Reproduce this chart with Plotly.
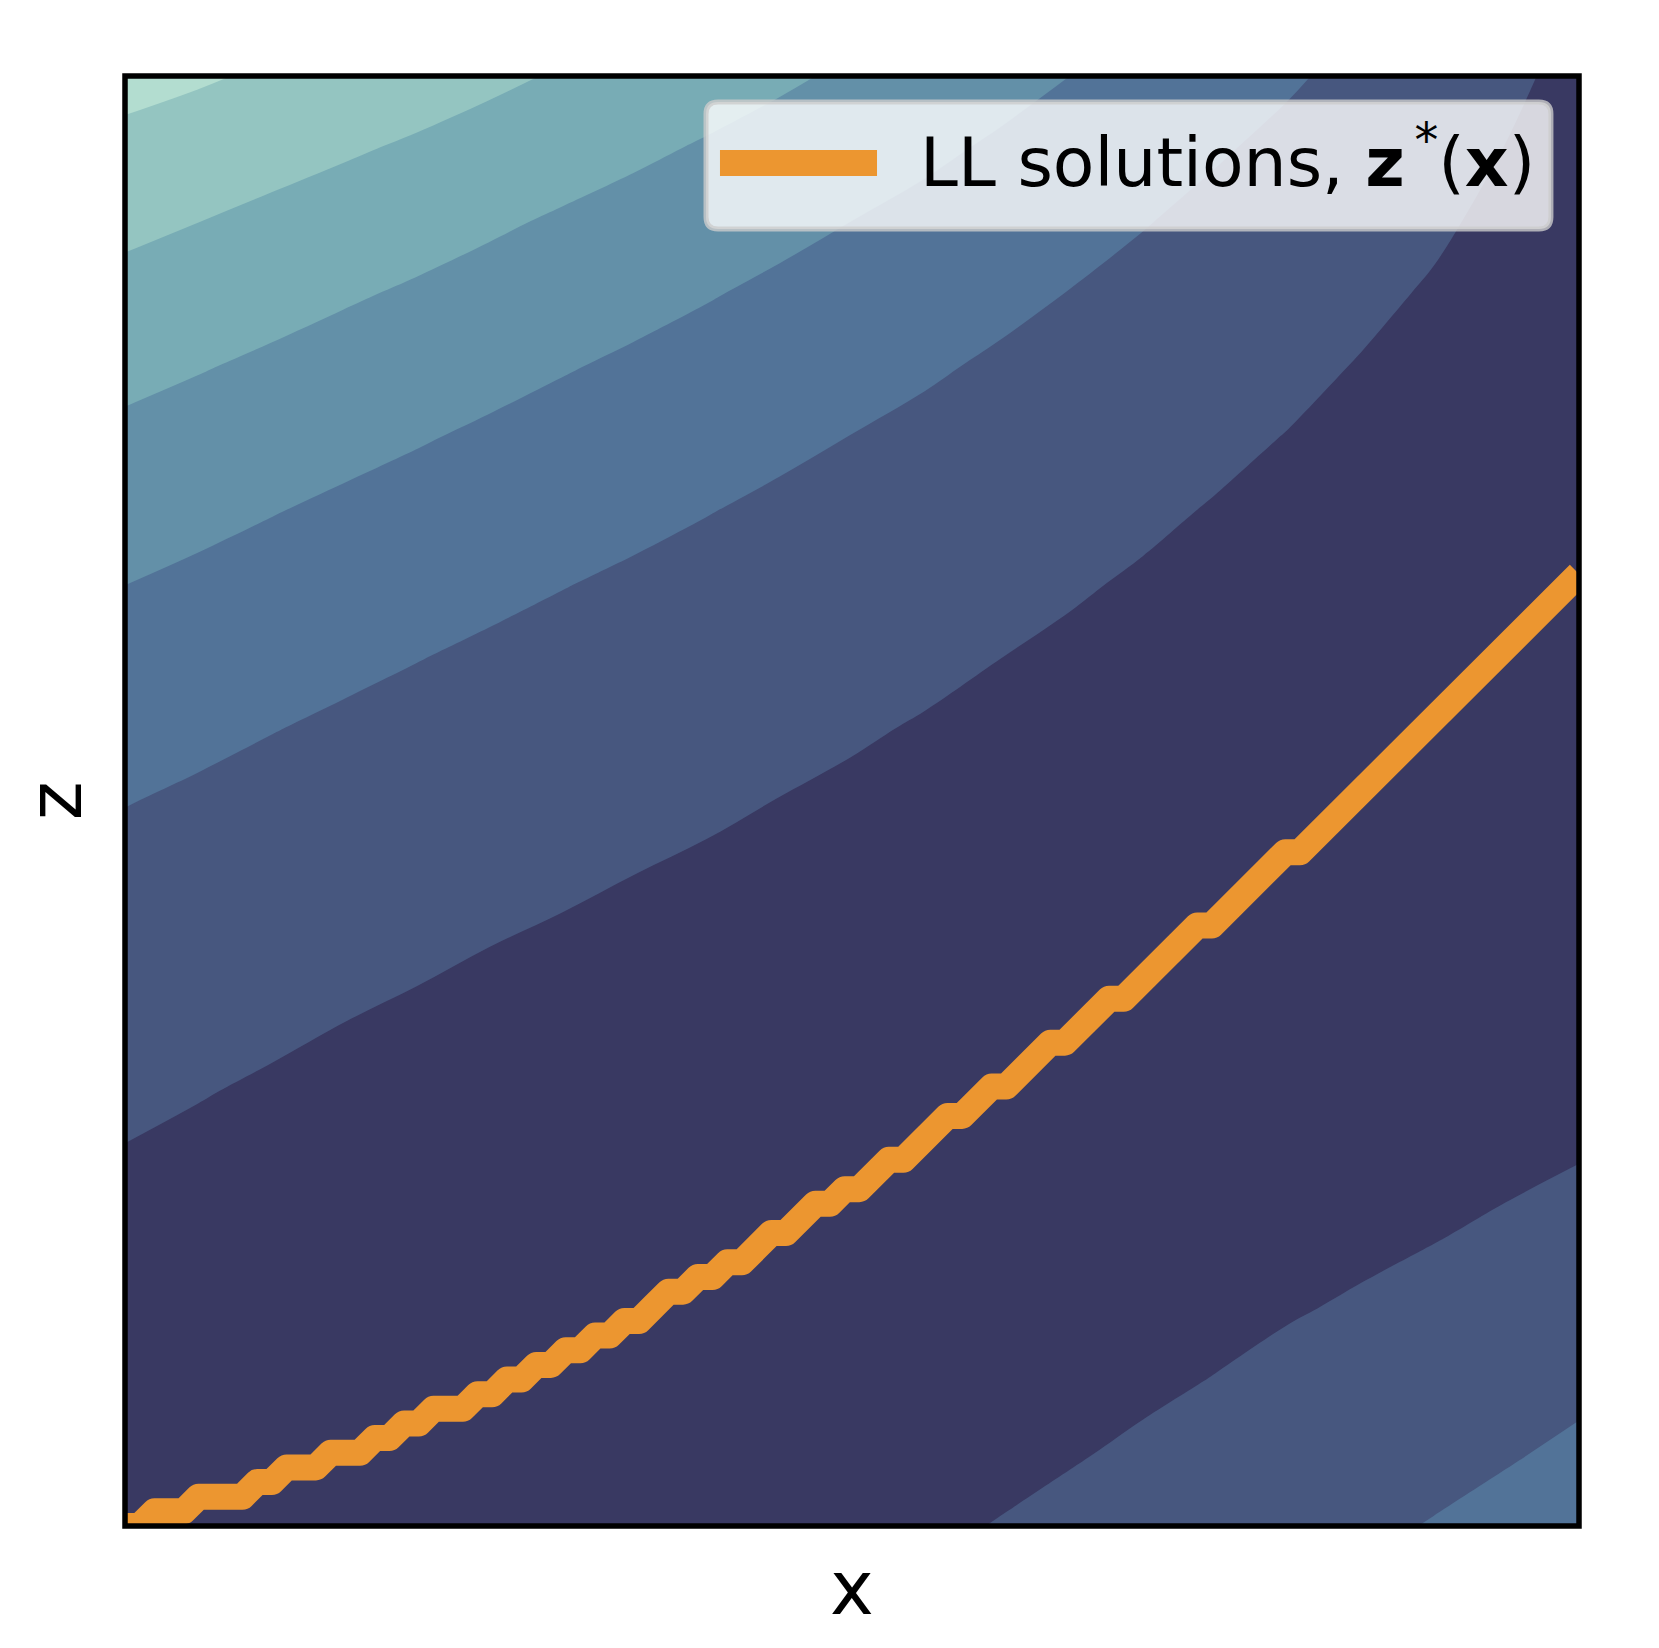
import plotly.graph_objects as go

# contour grid in grid-index units (0..99 on both axes), step 4.95
grid_x = [0, 4.95, 9.9, 14.85, 19.8, 24.75, 29.7, 34.65, 39.6, 44.55, 49.5,
          54.45, 59.4, 64.35, 69.3, 74.25, 79.2, 84.15, 89.1, 94.05, 99]
grid_z = list(grid_x)

# objective values; one list per x column, bottom -> top in z
obj_by_x = [
    [0.600, 0.614, 0.657, 0.728, 0.828, 0.956, 1.113, 1.298, 1.512, 1.754, 2.025, 2.324, 2.652, 3.008, 3.393, 3.806, 4.248, 4.718, 5.217, 5.744, 6.300],
    [0.600, 0.602, 0.629, 0.684, 0.768, 0.882, 1.025, 1.197, 1.398, 1.628, 1.887, 2.176, 2.494, 2.840, 3.216, 3.621, 4.056, 4.519, 5.012, 5.543, 6.104],
    [0.600, 0.600, 0.609, 0.647, 0.715, 0.813, 0.941, 1.098, 1.285, 1.502, 1.749, 2.026, 2.332, 2.668, 3.034, 3.430, 3.856, 4.311, 4.796, 5.321, 5.876],
    [0.600, 0.600, 0.601, 0.622, 0.673, 0.755, 0.867, 1.009, 1.182, 1.385, 1.618, 1.882, 2.176, 2.500, 2.854, 3.239, 3.654, 4.099, 4.575, 5.106, 5.667],
    [0.600, 0.600, 0.600, 0.606, 0.641, 0.707, 0.804, 0.931, 1.089, 1.278, 1.497, 1.748, 2.029, 2.341, 2.683, 3.057, 3.461, 3.895, 4.361, 4.882, 5.434],
    [0.600, 0.600, 0.600, 0.600, 0.619, 0.668, 0.749, 0.861, 1.003, 1.177, 1.381, 1.617, 1.884, 2.181, 2.510, 2.869, 3.260, 3.682, 4.134, 4.643, 5.182],
    [0.660, 0.622, 0.602, 0.600, 0.606, 0.640, 0.705, 0.801, 0.928, 1.086, 1.275, 1.495, 1.746, 2.029, 2.342, 2.686, 3.061, 3.467, 3.904, 4.397, 4.921],
    [0.685, 0.636, 0.608, 0.600, 0.600, 0.619, 0.668, 0.749, 0.861, 1.003, 1.177, 1.381, 1.617, 1.884, 2.181, 2.510, 2.869, 3.260, 3.682, 4.159, 4.668],
    [0.722, 0.659, 0.618, 0.601, 0.600, 0.605, 0.639, 0.703, 0.799, 0.925, 1.083, 1.271, 1.491, 1.741, 2.023, 2.335, 2.679, 3.053, 3.459, 3.915, 4.402],
    [0.771, 0.691, 0.636, 0.606, 0.600, 0.600, 0.616, 0.663, 0.741, 0.851, 0.991, 1.162, 1.364, 1.597, 1.861, 2.156, 2.482, 2.839, 3.228, 3.667, 4.137],
    [0.836, 0.737, 0.664, 0.619, 0.600, 0.600, 0.603, 0.632, 0.692, 0.783, 0.906, 1.059, 1.243, 1.458, 1.704, 1.981, 2.289, 2.629, 2.999, 3.415, 3.862],
    [0.917, 0.796, 0.704, 0.641, 0.607, 0.600, 0.600, 0.610, 0.651, 0.723, 0.826, 0.960, 1.126, 1.323, 1.551, 1.810, 2.101, 2.423, 2.776, 3.160, 3.576],
    [1.016, 0.871, 0.757, 0.674, 0.622, 0.601, 0.600, 0.600, 0.620, 0.670, 0.752, 0.865, 1.010, 1.185, 1.392, 1.630, 1.900, 2.200, 2.532, 2.895, 3.290],
    [1.133, 0.962, 0.824, 0.719, 0.647, 0.608, 0.600, 0.600, 0.603, 0.632, 0.692, 0.783, 0.906, 1.059, 1.243, 1.458, 1.704, 1.981, 2.289, 2.629, 2.999],
    [1.277, 1.077, 0.912, 0.781, 0.686, 0.626, 0.601, 0.600, 0.600, 0.608, 0.645, 0.713, 0.811, 0.940, 1.099, 1.289, 1.509, 1.760, 2.041, 2.353, 2.695],
    [1.443, 1.212, 1.017, 0.860, 0.740, 0.657, 0.610, 0.600, 0.600, 0.600, 0.613, 0.655, 0.728, 0.830, 0.963, 1.126, 1.318, 1.541, 1.793, 2.076, 2.389],
    [1.636, 1.372, 1.146, 0.959, 0.811, 0.702, 0.632, 0.602, 0.600, 0.600, 0.600, 0.617, 0.663, 0.739, 0.844, 0.979, 1.143, 1.337, 1.560, 1.813, 2.095],
    [1.828, 1.531, 1.275, 1.061, 0.887, 0.754, 0.662, 0.611, 0.600, 0.600, 0.600, 0.600, 0.616, 0.661, 0.735, 0.838, 0.970, 1.131, 1.321, 1.540, 1.788],
    [2.046, 1.714, 1.426, 1.180, 0.978, 0.819, 0.703, 0.630, 0.601, 0.600, 0.600, 0.600, 0.600, 0.611, 0.650, 0.718, 0.815, 0.941, 1.097, 1.281, 1.494],
    [2.291, 1.922, 1.599, 1.321, 1.088, 0.900, 0.758, 0.661, 0.609, 0.600, 0.600, 0.600, 0.600, 0.600, 0.600, 0.619, 0.667, 0.744, 0.850, 0.985, 1.149],
    [2.576, 2.165, 1.802, 1.487, 1.219, 0.999, 0.828, 0.704, 0.628, 0.600, 0.600, 0.600, 0.600, 0.600, 0.600, 0.600, 0.600, 0.606, 0.640, 0.702, 0.793],
]

# band colours, darkest (lowest) first
band_colors = ["#393962", "#47577f", "#527398", "#6390a8",
               "#78acb5", "#94c5c1", "#b3ddd0"]

# lower-level solution: z grid index for each x grid index
ll_z = [0, 0, 1, 1, 1, 2, 2, 2, 2, 3,
        3, 4, 4, 4, 5, 5, 5, 6, 6, 7,
        7, 8, 8, 8, 9, 9, 10, 10, 11, 11,
        12, 12, 13, 13, 14, 14, 15, 16, 16, 17,
        17, 18, 18, 19, 20, 20, 21, 22, 22, 23,
        23, 24, 25, 25, 26, 27, 28, 28, 29, 30,
        30, 31, 32, 33, 33, 34, 35, 36, 36, 37,
        38, 39, 40, 41, 41, 42, 43, 44, 45, 46,
        46, 47, 48, 49, 50, 51, 52, 53, 54, 55,
        56, 57, 58, 59, 60, 61, 62, 63, 64, 65]
ll_x = list(range(len(ll_z)))

ORANGE = "#EC9630"
FONT = "DejaVu Sans"

n = len(band_colors)
cscale = [[i / (n - 1), c] for i, c in enumerate(band_colors)]

fig = go.Figure()
fig.add_trace(go.Contour(
    x=grid_x, y=grid_z, z=obj_by_x, transpose=True,
    contours=dict(start=1, end=6, size=1, coloring="fill", showlines=False),
    line=dict(width=0, smoothing=1),
    colorscale=cscale, showscale=False, hoverinfo="skip",
))
fig.add_trace(go.Scatter(
    x=ll_x, y=ll_z, mode="lines",
    line=dict(color=ORANGE, width=26),
    name="LL solutions", showlegend=False, hoverinfo="skip",
))

# legend box drawn by hand (rounded corners, long swatch)
lx0, lx1, ly0, ly1 = 0.3996, 0.9807, 0.8945, 0.982
rx, ry = 12 / 1454, 12 / 1450
box = (f"M {lx0+rx},{ly0} L {lx1-rx},{ly0} Q {lx1},{ly0} {lx1},{ly0+ry} "
       f"L {lx1},{ly1-ry} Q {lx1},{ly1} {lx1-rx},{ly1} "
       f"L {lx0+rx},{ly1} Q {lx0},{ly1} {lx0},{ly1-ry} "
       f"L {lx0},{ly0+ry} Q {lx0},{ly0} {lx0+rx},{ly0} Z")

# page body has an 8px margin, so the figure is 16px smaller than the window
fig.update_layout(
    width=1643, height=1632,
    margin=dict(l=117, r=72, t=68, b=114),
    paper_bgcolor="white", plot_bgcolor="white",
    font=dict(family=FONT, color="black"),
    xaxis=dict(range=[0, 99], showticklabels=False, ticks="", showgrid=False,
               zeroline=False, showline=False),
    yaxis=dict(range=[0, 99], showticklabels=False, ticks="", showgrid=False,
               zeroline=False, showline=False),
    shapes=[
        dict(type="path", xref="paper", yref="paper", path=box, layer="above",
             fillcolor="rgba(255,255,255,0.8)",
             line=dict(color="rgba(204,204,204,0.8)", width=5)),
        dict(type="line", xref="paper", yref="paper", layer="above",
             x0=0.4092, x1=0.5172, y0=0.940, y1=0.940,
             line=dict(color=ORANGE, width=26)),
        dict(type="rect", xref="paper", yref="paper", layer="above",
             x0=0, x1=1, y0=0, y1=1, line=dict(color="black", width=5.5)),
    ],
    annotations=[
        dict(text="LL solutions, <b>z</b><sup>\u2009*</sup>(<b>x</b>)",
             xref="paper", yref="paper", x=0.5455, y=0.944,
             xanchor="left", yanchor="middle", showarrow=False,
             font=dict(size=68, family=FONT, color="black")),
        dict(text="x", xref="paper", yref="paper", x=0.5, y=-0.043,
             xanchor="center", yanchor="middle", showarrow=False,
             font=dict(size=74, family=FONT, color="black")),
        dict(text="z", xref="paper", yref="paper", x=-0.048, y=0.5,
             xanchor="center", yanchor="middle", showarrow=False, textangle=-90,
             font=dict(size=74, family=FONT, color="black")),
    ],
)

fig.write_html("out.html", post_script=(
    "document.querySelectorAll('path.js-line').forEach(function(p){"
    "p.style.strokeLinejoin='round';});"))
